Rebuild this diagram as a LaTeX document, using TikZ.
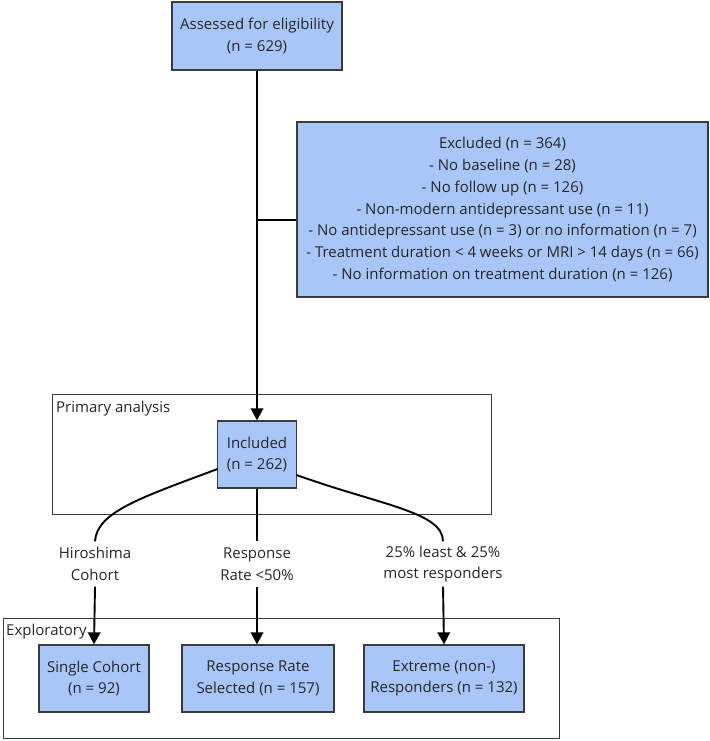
\documentclass[tikz,border=0pt]{standalone}
\usepackage{fontspec}
\setmainfont{Open Sans}
\usetikzlibrary{arrows.meta}
\definecolor{boxblue}{HTML}{A9C6F9}
\definecolor{boxedge}{HTML}{3A3A3A}
\definecolor{txt}{HTML}{262626}
\begin{document}
\begin{tikzpicture}[x=1pt,y=-1pt,
  every node/.style={text=txt},
  flowbox/.style={draw=boxedge,line width=1.3pt,fill=boxblue,inner sep=0pt,align=center,
    font=\fontsize{15}{21.7}\selectfont},
  groupbox/.style={draw=boxedge,line width=1pt,inner sep=0pt},
  grouplabel/.style={anchor=west,inner sep=0pt,font=\fontsize{15}{21.7}\selectfont},
  edgelabel/.style={align=center,inner sep=0pt,minimum height=45pt,font=\fontsize{15}{21.7}\selectfont},
  conn/.style={draw=black,line width=1.9pt},
  arr/.style={conn,-{Triangle[length=12pt,width=12.5pt]}}]
\useasboundingbox (0,0) rectangle (709,741);
% group frames
\node[groupbox,minimum width=439pt,minimum height=120pt] (primary) at (271.5,454) {};
\node[grouplabel] (primarylab) at (56,409) {Primary analysis};
\node[groupbox,minimum width=556pt,minimum height=120pt] (explor) at (281,678) {};
\node[grouplabel] (explorlab) at (6,632) {Exploratory};
% boxes
\node[flowbox,minimum width=170pt,minimum height=68pt] (assess) at (257,36) {Assessed for eligibility\\(n = 629)};
\node[flowbox,minimum width=411pt,minimum height=175pt] (excl) at (502.5,209.5) {Excluded (n = 364)\\- No baseline (n = 28)\\- No follow up (n = 126)\\- Non-modern antidepressant use (n = 11)\\- No antidepressant use (n = 3) or no information (n = 7)\\- Treatment duration < 4 weeks or MRI > 14 days (n = 66)\\- No information on treatment duration (n = 126)};
\node[flowbox,minimum width=79pt,minimum height=67pt] (incl) at (257,454.5) {Included\\(n = 262)};
\node[flowbox,minimum width=110pt,minimum height=67pt] (single) at (94,678.5) {Single Cohort\\(n = 92)};
\node[flowbox,minimum width=152pt,minimum height=67pt] (rrsel) at (258,678.5) {Response Rate\\Selected (n = 157)};
\node[flowbox,minimum width=160pt,minimum height=67pt] (extreme) at (444,678.5) {Extreme (non-)\\Responders (n = 132)};
% edge labels
\node[edgelabel] (hirolab) at (95,564) {Hiroshima\\Cohort};
\node[edgelabel] (resplab) at (257,564) {Response\\Rate <50\%};
\node[edgelabel] (extlab) at (443,564) {25\% least \& 25\%\\most responders};
% connectors
\draw[arr] (assess.south) -- (incl.north);
\coordinate (junction) at (257,220);
\draw[conn] (junction) -- (junction -| excl.west);
\coordinate (inclleft) at (217.5,469);
\coordinate (inclright) at (296.5,475);
\draw[conn] (inclleft) .. controls (140,498) and (97,512) .. (hirolab.north);
\draw[conn] (inclright) .. controls (380,505) and (443,512) .. (extlab.north);
\draw[conn] (incl.south) -- (resplab.north);
\draw[arr] (hirolab.south) -- (single.north);
\draw[arr] (resplab.south) -- (resplab.south |- rrsel.north);
\draw[arr] (extlab.south) -- (extreme.north);
\end{tikzpicture}
\end{document}
